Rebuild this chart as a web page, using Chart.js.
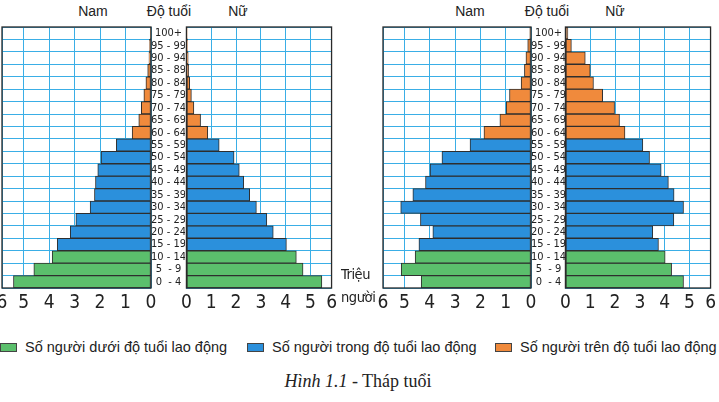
<!DOCTYPE html>
<html>
<head>
<meta charset="utf-8">
<script src="https://cdn.jsdelivr.net/npm/chart.js@4.4.1/dist/chart.umd.min.js"></script>
<style>
  body { margin: 0; width: 719px; height: 402px; background: #fff; position: relative; overflow: hidden;
         font-family: 'Liberation Sans', Arial, sans-serif; color: #222; }
  .panel { position: absolute; }
  .hd { position: absolute; top: 3px; font-size: 14px; transform: translateX(-50%); white-space: nowrap; }
  .unit { position: absolute; left: 341px; top: 263px; font-family: 'DejaVu Sans Condensed', sans-serif;
          font-size: 14.5px; line-height: 23px; letter-spacing: -0.4px; }
  .legend { position: absolute; top: 339px; left: 0; width: 719px; font-size: 14.5px; white-space: nowrap; }
  .legend .item { position: absolute; top: 0; }
  .legend .sw { display: inline-block; width: 15px; height: 7px; border: 1px solid #444; vertical-align: 0px; margin-right: 8px; }
  .caption { position: absolute; top: 371px; left: 358px; transform: translateX(-50%); white-space: nowrap;
             font-family: 'Liberation Serif', 'Times New Roman', serif; font-size: 18px; }
</style>
</head>
<body>

<div class="hd" style="left:93px">Nam</div>
<div class="hd" style="left:169px">Độ tuổi</div>
<div class="hd" style="left:238px">Nữ</div>
<div class="hd" style="left:470px">Nam</div>
<div class="hd" style="left:547px">Độ tuổi</div>
<div class="hd" style="left:615px">Nữ</div>

<div class="panel" style="left:-6px;top:19px;width:205px;height:299px"><canvas id="namA"></canvas></div>
<div class="panel" style="left:177px;top:19px;width:164px;height:299px"><canvas id="nuA"></canvas></div>
<div class="panel" style="left:375px;top:19px;width:204px;height:299px"><canvas id="namB"></canvas></div>
<div class="panel" style="left:556px;top:19px;width:164px;height:299px"><canvas id="nuB"></canvas></div>

<div class="unit">Triệu<br>người</div>

<div class="legend">
  <div class="item" style="left:0px"><span class="sw" style="background:#5bbf6c"></span>Số người dưới độ tuổi lao động</div>
  <div class="item" style="left:247px"><span class="sw" style="background:#2b90dc"></span>Số người trong độ tuổi lao động</div>
  <div class="item" style="left:495px"><span class="sw" style="background:#f08a3c"></span>Số người trên độ tuổi lao động</div>
</div>

<div class="caption"><i>Hình 1.1</i> - Tháp tuổi</div>

<script>
// age groups, youngest first
const ages = ['0  - 4', '5  - 9', '10 - 14', '15 - 19', '20 - 24', '25 - 29', '30 - 34', '35 - 39',
  '40 - 44', '45 - 49', '50 - 54', '55 - 59', '60 - 64', '65 - 69', '70 - 74', '75 - 79',
  '80 - 84', '85 - 89', '90 - 94', '95 - 99', '100+'];

// 0 = under working age, 1 = working age, 2 = over working age
const ageGroup = [0, 0, 0, 1, 1, 1, 1, 1, 1, 1, 1, 1, 2, 2, 2, 2, 2, 2, 2, 2, 2];

// millions of people, left pyramid
const namA = [5.4, 4.6, 3.88, 3.68, 3.17, 2.95, 2.39, 2.22, 2.18, 2.09, 1.96,
  1.36, 0.74, 0.48, 0.38, 0.28, 0.2, 0.13, 0.08, 0.06, 0.03];
const nuA = [5.46, 4.7, 4.43, 4.03, 3.5, 3.24, 2.82, 2.55, 2.31, 2.13, 1.92,
  1.32, 0.86, 0.57, 0.3, 0.2, 0.13, 0.09, 0.07, 0.04, 0.03];

// millions of people, right pyramid
const namB = [4.34, 5.13, 4.58, 4.43, 3.88, 4.37, 5.15, 4.67, 4.17, 3.99, 3.52,
  2.41, 1.86, 1.23, 0.98, 0.85, 0.39, 0.26, 0.2, 0.13, 0.05];
const nuB = [4.76, 4.28, 4.02, 3.75, 3.52, 4.37, 4.76, 4.38, 4.15, 3.86, 3.39,
  3.12, 2.4, 2.18, 1.98, 1.5, 1.13, 1.0, 0.8, 0.24, 0.1];

const tickLabels = ['0', '1', '2', '3', '4', '5', '6'];
const axisEnd = 5.85; // the frame stops a little short of 6

const groupColors = ['#5bbf6c', '#2b90dc', '#f08a3c'];
const gridColor = '#3aaee6';
const narrow = "'DejaVu Sans Condensed', sans-serif";

// dark frame round each plot
const framePlugin = {
  id: 'frame',
  afterDraw(chart) {
    const a = chart.chartArea;
    const ctx = chart.ctx;
    ctx.save();
    ctx.strokeStyle = '#2a2a2a';
    ctx.lineWidth = 1.3;
    ctx.strokeRect(a.left, a.top, a.right - a.left, a.bottom - a.top);
    ctx.restore();
  }
};

function makeSide(id, values, isMale) {
  const ctx = document.getElementById(id);
  new Chart(ctx, {
    type: 'bar',
    data: {
      labels: ages,
      datasets: [{
        data: values,
        backgroundColor: ageGroup.map(g => groupColors[g]),
        borderColor: '#2e2e2e',
        borderWidth: 1,
        borderSkipped: false,
        barPercentage: 1,
        categoryPercentage: 1
      }]
    },
    options: {
      indexAxis: 'y',
      responsive: true,
      maintainAspectRatio: false,
      animation: false,
      layout: { padding: { left: 8, right: isMale ? 14 : 8, top: 8, bottom: 0 } },
      plugins: {
        legend: { display: false },
        tooltip: { enabled: false }
      },
      scales: {
        x: {
          min: 0,
          max: axisEnd,
          reverse: isMale,
          afterBuildTicks: scale => {
            scale.ticks = tickLabels.map((t, i) => ({ value: i < tickLabels.length - 1 ? i : axisEnd }));
          },
          afterFit: scale => { scale.height = 30; },
          grid: { color: gridColor, drawTicks: false },
          border: { display: false },
          ticks: {
            padding: 4,
            color: '#222',
            font: { family: narrow, size: 19 },
            maxRotation: 0,
            autoSkip: false,
            callback: (v, i) => tickLabels[i]
          }
        },
        y: {
          reverse: true,
          position: isMale ? 'right' : 'left',
          afterFit: scale => { scale.width = isMale ? 34 : 0; },
          grid: { color: gridColor, drawTicks: false, offset: true },
          border: { display: false },
          ticks: {
            display: isMale,
            padding: 0,
            crossAlign: 'center',
            color: '#222',
            font: { family: narrow, size: 11 },
            autoSkip: false
          }
        }
      }
    },
    plugins: [framePlugin]
  });
}

makeSide('namA', namA, true);
makeSide('nuA', nuA, false);
makeSide('namB', namB, true);
makeSide('nuB', nuB, false);
</script>
</body>
</html>
